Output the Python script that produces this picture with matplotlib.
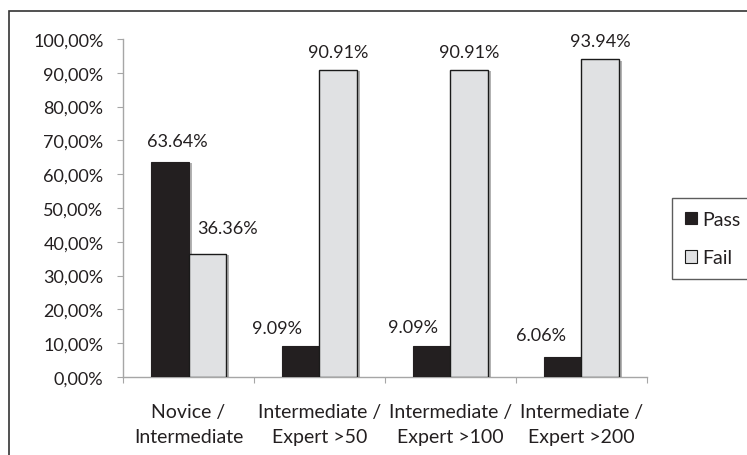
import matplotlib
matplotlib.use("Agg")
import matplotlib.pyplot as plt
import matplotlib.patheffects as pe
from matplotlib.patches import Rectangle
import numpy as np

categories = ["Novice /\nIntermediate", "Intermediate /\nExpert >50",
              "Intermediate /\nExpert >100", "Intermediate /\nExpert >200"]
pass_vals = [63.64, 9.09, 9.09, 6.06]
fail_vals = [36.36, 90.91, 90.91, 93.94]
series_names = ["Pass", "Fail"]
y_ticks = [0, 10, 20, 30, 40, 50, 60, 70, 80, 90, 100]
y_tick_labels = ["0,00%", "10,00%", "20,00%", "30,00%", "40,00%", "50,00%",
                 "60,00%", "70,00%", "80,00%", "90,00%", "100,00%"]

# hand-placed data label nudges (pixels: dx, dy above bar top)
pass_label_nudge = [(8, 21), (-24, 18), (-19, 19), (-22, 22)]
fail_label_nudge = [(20, 26), (0, 18), (0, 18), (0, 18)]

plt.rcParams["font.family"] = ["Lato", "DejaVu Sans"]
TXT = "#231f20"
PASS_C = "#231f20"
FAIL_C = "#e0e1e3"
AXIS_C = "#a6a6a6"

W, H = 747, 456
fig = plt.figure(figsize=(W / 100, H / 100), dpi=100)

# outer chart frame (only left and top edges fall inside the canvas)
fig.patches.append(Rectangle((9 / W, -0.05), 1.1, (456 - 12) / H + 0.05,
                             transform=fig.transFigure, fill=False,
                             edgecolor="#333333", linewidth=1.2))

ax = fig.add_axes([123 / W, (H - 378) / H, (647 - 123) / W, (378 - 40) / H])
ax.set_xlim(0, len(categories))
ax.set_ylim(0, 100)

x = np.arange(len(categories)) + 0.5
bw = 0.287
shadow = [pe.SimplePatchShadow(offset=(2.2, -1), shadow_rgbFace="#555555", alpha=0.45),
          pe.Normal()]

pb = ax.bar(x - bw / 2, pass_vals, bw, color=PASS_C, edgecolor=PASS_C,
            linewidth=0.8, label=series_names[0], zorder=3)
fb = ax.bar(x + bw / 2, fail_vals, bw, color=FAIL_C, edgecolor="#1a1a1a",
            linewidth=1.0, label=series_names[1], zorder=3)
for b in list(pb) + list(fb):
    b.set_path_effects(shadow)

for xs, vals, nudges in ((x - bw / 2, pass_vals, pass_label_nudge),
                         (x + bw / 2, fail_vals, fail_label_nudge)):
    for xi, v, (dx, dy) in zip(xs, vals, nudges):
        ax.annotate(f"{v:.2f}%", (xi, v), xytext=(dx, dy), textcoords="offset pixels",
                    ha="center", va="center", fontsize=13, color=TXT, zorder=6)

ax.set_yticks(y_ticks)
ax.set_yticklabels(y_tick_labels, fontsize=13, color=TXT)
ax.set_xticks(np.arange(len(categories) + 1))
ax.set_xticklabels([])
ax.tick_params(axis="y", direction="out", length=4, color=AXIS_C, pad=10)
ax.tick_params(axis="x", direction="out", length=4.5, color=AXIS_C)

for xi, lab in zip(x, categories):
    l1, l2 = lab.split("\n")
    ax.annotate(l1, (xi, 0), xytext=(0, -35), textcoords="offset pixels",
                ha="center", va="center", fontsize=14, color=TXT,
                annotation_clip=False)
    ax.annotate(l2, (xi, 0), xytext=(0, -60), textcoords="offset pixels",
                ha="center", va="center", fontsize=14, color=TXT,
                annotation_clip=False)

for s in ("top", "right"):
    ax.spines[s].set_visible(False)
for s in ("left", "bottom"):
    ax.spines[s].set_color(AXIS_C)
    ax.spines[s].set_linewidth(1.0)

leg = fig.legend(handles=[pb, fb], labels=series_names,
                 loc="upper left", bbox_to_anchor=(672 / W, (H - 199) / H),
                 frameon=True, fancybox=False, edgecolor="#333333",
                 fontsize=14, handlelength=0.62, handleheight=0.62,
                 handletextpad=0.3, labelspacing=1.1, borderpad=0.66,
                 borderaxespad=0)
leg.get_frame().set_linewidth(1.0)
for t in leg.get_texts():
    t.set_color(TXT)
for h in leg.legend_handles:
    h.set_path_effects([])
    h.set_linewidth(0.8)

fig.savefig("out.png", dpi=100)
